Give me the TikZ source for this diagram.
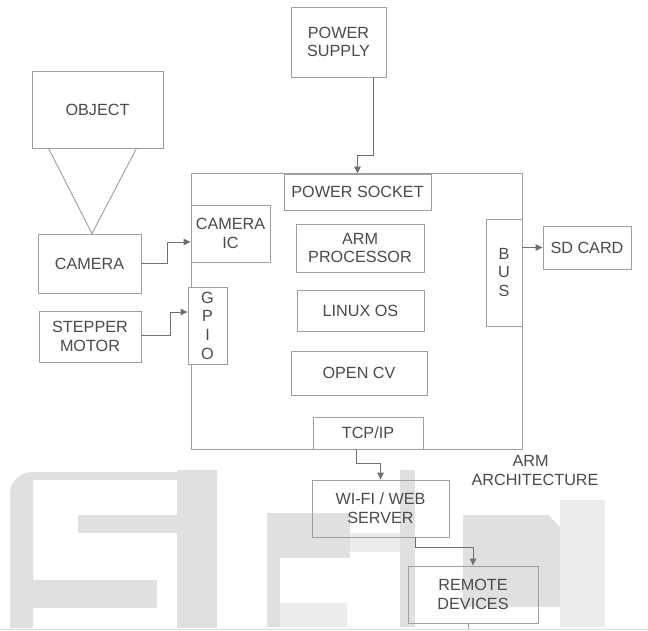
\documentclass[tikz,border=0pt]{standalone}
\usepackage{fontspec}
\setmainfont{Liberation Sans}
\usetikzlibrary{arrows.meta}
\definecolor{boxgray}{HTML}{9E9E9E}
\definecolor{linegray}{HTML}{707070}
\definecolor{txtgray}{HTML}{4A4A4A}
\definecolor{wm}{HTML}{E0E0E0}
\definecolor{wmlight}{HTML}{ECECEC}
\definecolor{edgeblue}{HTML}{D5DDE8}
\tikzset{
  box/.style={draw=boxgray, line width=0.9pt, fill=white, text=txtgray,
    font=\fontsize{16.2}{18.7}\selectfont, align=center, inner sep=0pt},
  plainline/.style={draw=boxgray, line width=0.9pt},
  conn/.style={draw=linegray, line width=0.9pt, -{Triangle[length=7pt,width=6.5pt]}},
  lbl/.style={text=txtgray, font=\fontsize{16.2}{18.7}\selectfont, align=center, inner sep=0pt}
}
\begin{document}
\begin{tikzpicture}[x=1pt,y=-1pt]
\useasboundingbox (0,0) rectangle (648,631);
\fill[white] (0,0) rectangle (648,631);
% watermark
\fill[wm, rounded corners=22pt] (10,628) -- (10,472) -- (150,472) [sharp corners] -- (217,472) -- (217,480) -- (33,480) -- (33,628) -- cycle;
\fill[wm] (78,515) rectangle (207,533);
\fill[wm] (13,580) rectangle (157,608);
\fill[wm] (177,470) rectangle (217,628);
\fill[wm] (267,513) rectangle (350,558);
\fill[wm] (267,558) rectangle (280,627);
\fill[wmlight] (280,603) rectangle (347,627);
\fill[wmlight] (350,533) rectangle (400,552);
\fill[wm] (400,470) rectangle (415,627);
\fill[wm] (463,515) -- (548,515) -- (560,527) -- (560,607) -- (463,607) -- cycle;
\fill[wmlight] (560,500) rectangle (605,627);
\draw[edgeblue, line width=1.2pt] (0,629.5) -- (648,629.5);
% main frame
\node[box, fill=none, minimum width=331pt, minimum height=276pt] (frame) at (356.5,311) {};
% boxes
\node[box, minimum width=95pt, minimum height=70pt] (ps) at (338.5,42) {POWER\\SUPPLY};
\node[box, minimum width=131pt, minimum height=77pt] (object) at (97.5,109.5) {OBJECT};
\node[box, minimum width=147pt, minimum height=36pt] (socket) at (357.5,192) {POWER SOCKET};
\node[box, minimum width=79pt, minimum height=57pt] (camic) at (230.5,233.5) {CAMERA\\IC};
\node[box, minimum width=128pt, minimum height=48pt] (proc) at (360,248) {ARM\\PROCESSOR};
\node[box, minimum width=127pt, minimum height=41pt] (linux) at (360.5,310.5) {LINUX OS};
\node[box, minimum width=136pt, minimum height=44pt] (opencv) at (359,373) {OPEN CV};
\node[box, minimum width=110pt, minimum height=32pt] (tcp) at (368,433) {TCP/IP};
\node[box, minimum width=36pt, minimum height=107pt] (bus) at (504,272.5) {B\\U\\S};
\node[box, minimum width=88pt, minimum height=43pt] (sd) at (587,247.5) {SD CARD};
\node[box, minimum width=103pt, minimum height=59pt] (camera) at (89.5,263.5) {CAMERA};
\node[box, minimum width=102pt, minimum height=51pt] (stepper) at (90,336.5) {STEPPER\\MOTOR};
\node[box, minimum width=39pt, minimum height=77pt] (gpio) at (207.5,325.5) {G\\P\\I\\O};
\node[box, fill=none, minimum width=137pt, minimum height=57pt] (wifi) at (380.5,508.5) {WI-FI / WEB\\SERVER};
\node[box, fill=none, minimum width=130pt, minimum height=57pt] (remote) at (473,594.5) {REMOTE\\DEVICES};
\node[lbl] (archlbl) at (535,470.5) {ARM\hspace*{9pt}\\ARCHITECTURE};
% view cone
\draw[plainline] ([xshift=17pt]object.south west) -- ([xshift=2.5pt]camera.north) -- ([xshift=-27pt]object.south east);
% connectors
\draw[conn] ([xshift=34.5pt]ps.south) -- ++(0,78) -| (socket.north);
\draw[conn] (camera.east) -- ++(26,0) |- ([yshift=-8.5pt]camic.west);
\draw[conn] ([yshift=1.5pt]stepper.east) -- ++(29,0) |- ([yshift=13.5pt]gpio.west);
\draw[conn] (sd.west -| bus.east) -- (sd.west);
\draw[conn] ([xshift=-12pt]tcp.south) -- ++(0,14) -| (wifi.north);
\draw[conn] ([xshift=34.5pt]wifi.south) -- ++(0,10) -| (remote.north);
\draw[plainline] ([xshift=-5pt]remote.south) -- ++(0,6);
\end{tikzpicture}
\end{document}
